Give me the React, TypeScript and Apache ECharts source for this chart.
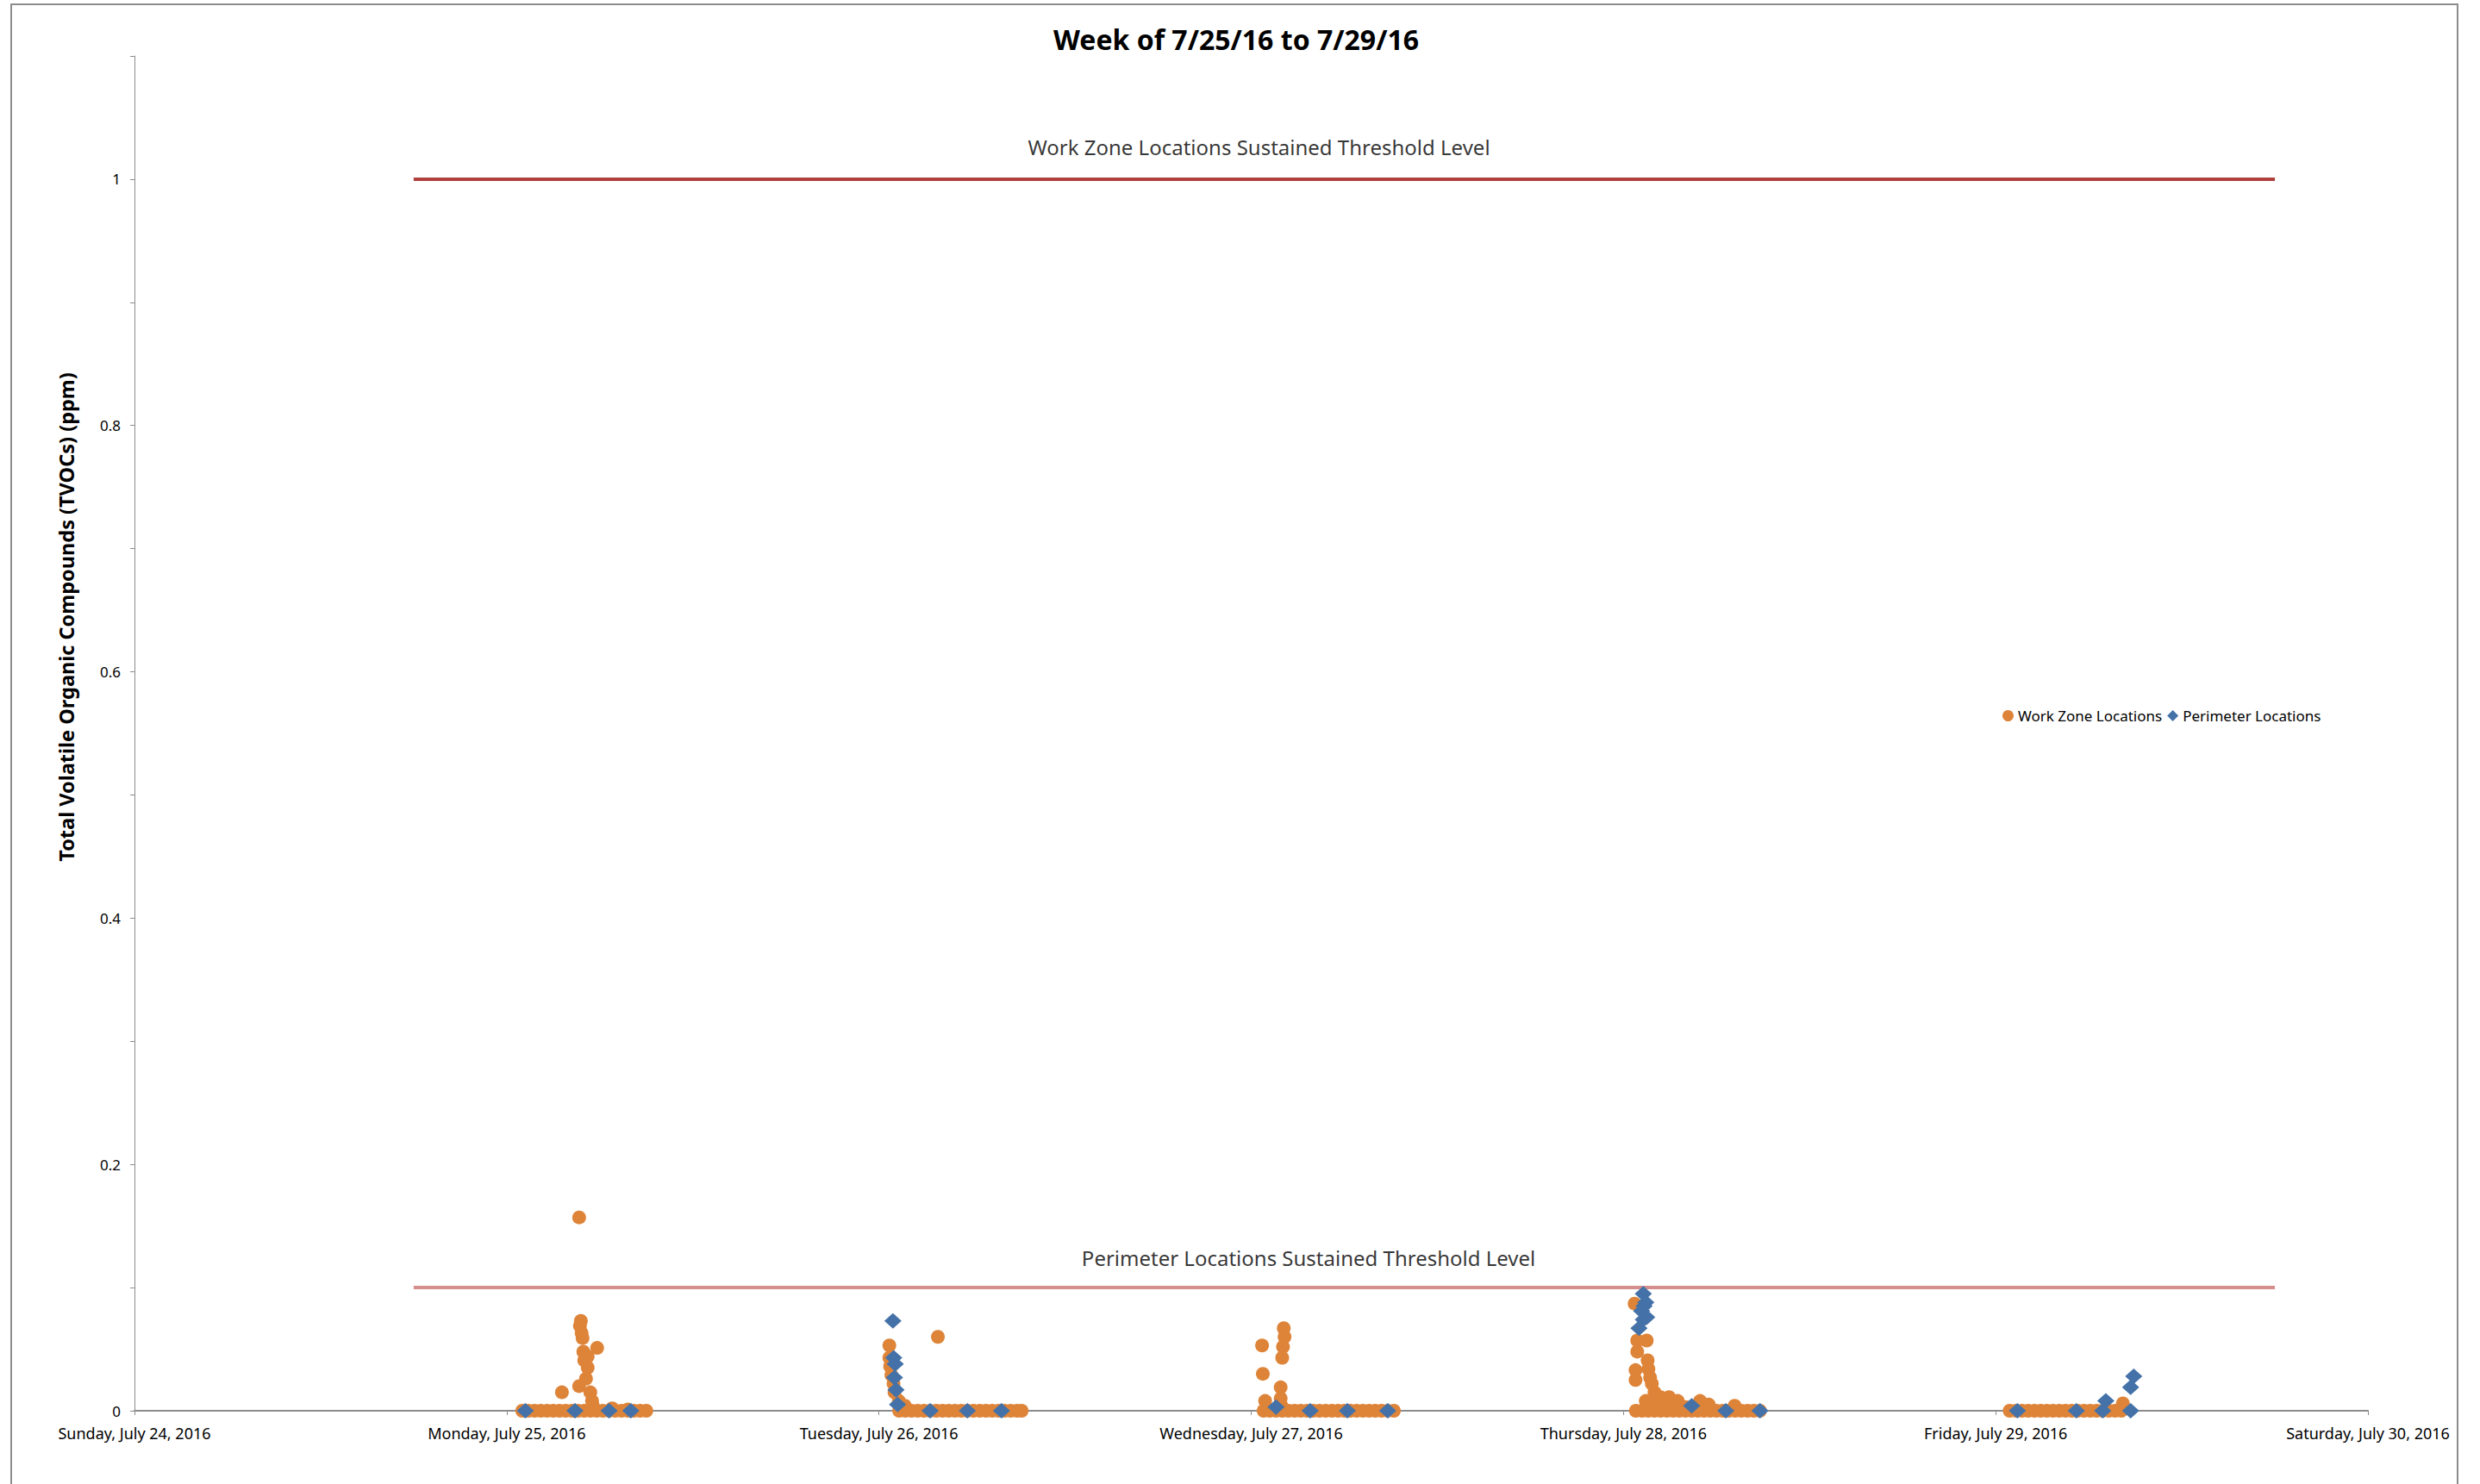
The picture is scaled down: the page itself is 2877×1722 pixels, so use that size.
import React, { useEffect, useRef } from 'react';
import * as echarts from 'echarts';

// x values are hours since Sunday, July 24, 2016 00:00
const dayLabels = [
  'Sunday, July 24, 2016',
  'Monday, July 25, 2016',
  'Tuesday, July 26, 2016',
  'Wednesday, July 27, 2016',
  'Thursday, July 28, 2016',
  'Friday, July 29, 2016',
  'Saturday, July 30, 2016',
];

const titleText = 'Week of 7/25/16 to 7/29/16';
const yAxisTitle = 'Total Volatile Organic Compounds (TVOCs) (ppm)';
const seriesNames = ['Work Zone Locations', 'Perimeter Locations'];

const thresholdNames = [
  'Work Zone Locations Sustained Threshold Level',
  'Perimeter Locations Sustained Threshold Level',
];
const thresholdLevels = [1, 0.1];
const thresholdSpan = [18, 138];
const thresholdLabelHours = [72.5, 75.7];

const workZoneMonday: number[][] = [
  [28.67, 0.157], [28.78, 0.073], [28.72, 0.069], [28.83, 0.063], [28.89, 0.059], [29.83, 0.051],
  [28.94, 0.048], [29.22, 0.044], [29.0, 0.041], [29.22, 0.035], [29.11, 0.026], [28.67, 0.02],
  [27.56, 0.015], [29.39, 0.015], [29.5, 0.008], [29.55, 0.004], [30.8, 0.002], [31.8, 0.001],
  [25.0, 0], [25.4, 0], [25.8, 0], [26.2, 0], [26.6, 0], [27.0, 0], [27.4, 0], [27.8, 0], [28.2, 0],
  [28.6, 0], [29.0, 0], [29.4, 0], [29.8, 0], [30.2, 0], [30.6, 0], [31.0, 0], [31.4, 0], [31.8, 0],
  [32.2, 0], [32.6, 0], [33.0, 0],
];
const workZoneTuesday: number[][] = [
  [48.67, 0.053], [48.67, 0.043], [48.72, 0.036], [48.8, 0.029], [48.94, 0.022], [49.0, 0.015],
  [49.28, 0.008], [49.67, 0.004], [51.8, 0.06],
  [49.3, 0], [49.7, 0], [50.1, 0], [50.5, 0], [50.9, 0], [51.3, 0], [51.7, 0], [52.1, 0], [52.5, 0],
  [52.9, 0], [53.3, 0], [53.7, 0], [54.1, 0], [54.5, 0], [54.9, 0], [55.3, 0], [55.7, 0], [56.1, 0],
  [56.5, 0], [56.9, 0], [57.2, 0],
];
const workZoneWednesday: number[][] = [
  [74.1, 0.067], [74.15, 0.06], [74.05, 0.052], [74.0, 0.043], [72.7, 0.053], [72.75, 0.03],
  [73.9, 0.019], [72.9, 0.008], [73.9, 0.01], [73.95, 0.004],
  [72.8, 0], [73.2, 0], [73.6, 0], [74.0, 0], [74.4, 0], [74.8, 0], [75.2, 0], [75.6, 0], [76.0, 0],
  [76.4, 0], [76.8, 0], [77.2, 0], [77.6, 0], [78.0, 0], [78.4, 0], [78.8, 0], [79.2, 0], [79.6, 0],
  [80.0, 0], [80.4, 0], [80.8, 0], [81.2, 0],
];
const workZoneThursday: number[][] = [
  [96.72, 0.087], [96.89, 0.057], [97.5, 0.057], [96.89, 0.048], [97.56, 0.041], [96.78, 0.033],
  [96.78, 0.025], [97.61, 0.034], [97.72, 0.027], [97.83, 0.022], [98.0, 0.015], [97.44, 0.008],
  [98.39, 0.011], [98.94, 0.011], [99.5, 0.008], [100.94, 0.008], [101.5, 0.005], [103.17, 0.004],
  [98.2, 0.006], [97.9, 0.004], [98.6, 0.005], [99.1, 0.004], [100.0, 0.003],
  [96.8, 0], [97.2, 0], [97.6, 0], [98.0, 0], [98.4, 0], [98.8, 0], [99.2, 0], [99.6, 0], [100.0, 0],
  [100.4, 0], [100.8, 0], [101.2, 0], [101.6, 0], [102.0, 0], [102.4, 0], [102.8, 0], [103.2, 0],
  [103.6, 0], [104.0, 0], [104.4, 0], [104.8, 0],
];
const workZoneFriday: number[][] = [
  [128.2, 0.006],
  [120.9, 0], [121.3, 0], [121.7, 0], [122.1, 0], [122.5, 0], [122.9, 0], [123.3, 0], [123.7, 0],
  [124.1, 0], [124.5, 0], [124.9, 0], [125.3, 0], [125.7, 0], [126.1, 0], [126.5, 0], [126.9, 0],
  [127.3, 0], [127.7, 0], [128.1, 0],
];

const perimeterMonday: number[][] = [[25.2, 0], [28.4, 0], [30.6, 0], [32.0, 0]];
const perimeterTuesday: number[][] = [
  [48.9, 0.073], [48.95, 0.043], [49.05, 0.038], [49.0, 0.027], [49.1, 0.017], [49.2, 0.005],
  [51.3, 0], [53.7, 0], [55.9, 0],
];
const perimeterWednesday: number[][] = [[73.6, 0.003], [75.8, 0], [78.2, 0], [80.8, 0]];
const perimeterThursday: number[][] = [
  [97.28, 0.095], [97.44, 0.088], [97.17, 0.081], [97.28, 0.074], [97.0, 0.067], [97.5, 0.076],
  [97.33, 0.085], [100.4, 0.004], [102.6, 0], [104.8, 0],
];
const perimeterFriday: number[][] = [
  [121.4, 0], [125.2, 0], [126.9, 0], [127.1, 0.008], [128.7, 0], [128.7, 0.019], [128.9, 0.028],
];

const ORANGE = '#DE8439';
const BLUE = '#4472A8';
const AXIS = '#8C8C8C';
const FONT = 'Noto Sans';

export default function App() {
  const ref = useRef<HTMLDivElement>(null);

  useEffect(() => {
    document.body.style.margin = '0';
    const chart = echarts.init(ref.current!, null, { renderer: 'svg' });

    const workZone = [
      ...workZoneMonday, ...workZoneTuesday, ...workZoneWednesday, ...workZoneThursday, ...workZoneFriday,
    ];
    const perimeter = [
      ...perimeterMonday, ...perimeterTuesday, ...perimeterWednesday, ...perimeterThursday, ...perimeterFriday,
    ];
    const thresholdColors = ['#B0403D', '#D48E8D'];
    const labelDistances = [25, 22];

    const thresholdSeries: any[] = [];
    thresholdLevels.forEach((lvl, i) => {
      thresholdSeries.push({
        name: thresholdNames[i],
        type: 'line',
        data: [[thresholdSpan[0], lvl], [thresholdSpan[1], lvl]],
        showSymbol: false,
        symbol: 'none',
        lineStyle: { color: thresholdColors[i], width: 4 },
        silent: true,
        z: 1,
      });
      thresholdSeries.push({
        name: thresholdNames[i] + ' label',
        type: 'scatter',
        data: [[thresholdLabelHours[i], lvl]],
        symbolSize: 1,
        itemStyle: { color: 'rgba(0,0,0,0)' },
        silent: true,
        label: {
          show: true,
          position: 'top',
          distance: labelDistances[i],
          formatter: thresholdNames[i],
          color: '#000',
          fontSize: 24,
          fontFamily: FONT,
        },
        z: 2,
      });
    });

    chart.setOption({
      animation: false,
      textStyle: { fontFamily: FONT },
      title: {
        text: titleText,
        left: 1429,
        top: 24,
        textAlign: 'center',
        textStyle: { fontSize: 32, fontWeight: 'bold', color: '#000', fontFamily: FONT },
      },
      legend: {
        data: [
          { name: seriesNames[0], icon: 'circle' },
          { name: seriesNames[1], icon: 'diamond' },
        ],
        left: 2318,
        top: 817,
        itemWidth: 13,
        itemHeight: 13,
        itemGap: 6,
        textStyle: { fontSize: 17, color: '#000', fontFamily: FONT },
      },
      grid: { left: 156, right: 130, top: 65, bottom: 85, containLabel: false },
      xAxis: {
        type: 'value',
        min: 0,
        max: 144,
        interval: 24,
        splitLine: { show: false },
        axisLine: { lineStyle: { color: AXIS, width: 2 } },
        axisTick: { show: true, length: 5, lineStyle: { color: AXIS } },
        axisLabel: {
          margin: 17,
          fontSize: 18,
          color: '#000',
          fontFamily: FONT,
          formatter: (v: number) => dayLabels[Math.round(v / 24)] ?? '',
        },
      },
      yAxis: {
        type: 'value',
        min: 0,
        max: 1.1,
        interval: 0.1,
        splitLine: { show: false },
        axisLine: { show: true, lineStyle: { color: AXIS, width: 1 } },
        axisTick: { show: true, length: 5, lineStyle: { color: AXIS } },
        axisLabel: {
          margin: 16,
          fontSize: 17,
          color: '#000',
          fontFamily: FONT,
          formatter: (v: number) => {
            const r = Math.round(v * 10);
            return r % 2 === 0 ? String(r / 10) : '';
          },
        },
      },
      graphic: [
        {
          type: 'rect',
          shape: { x: 13, y: 5, width: 2838, height: 1800 },
          style: { fill: 'none', stroke: AXIS, lineWidth: 2 },
          silent: true,
          z: -10,
        },
        {
          type: 'text',
          x: 77,
          y: 716,
          rotation: Math.PI / 2,
          style: {
            text: yAxisTitle,
            fontSize: 23.5,
            fontWeight: 'bold',
            fontFamily: FONT,
            fill: '#000',
            textAlign: 'center',
            textVerticalAlign: 'middle',
          },
        },
      ],
      series: [
        ...thresholdSeries,
        {
          name: seriesNames[0],
          type: 'scatter',
          symbol: 'circle',
          symbolSize: 16,
          itemStyle: { color: ORANGE, opacity: 1 },
          data: workZone,
          z: 3,
        },
        {
          name: seriesNames[1],
          type: 'scatter',
          symbol: 'diamond',
          symbolSize: [20, 18],
          itemStyle: { color: BLUE, opacity: 1 },
          data: perimeter,
          z: 4,
        },
      ],
    });

    return () => chart.dispose();
  }, []);

  return <div ref={ref} style={{ width: 2877, height: 1722 }} />;
}
